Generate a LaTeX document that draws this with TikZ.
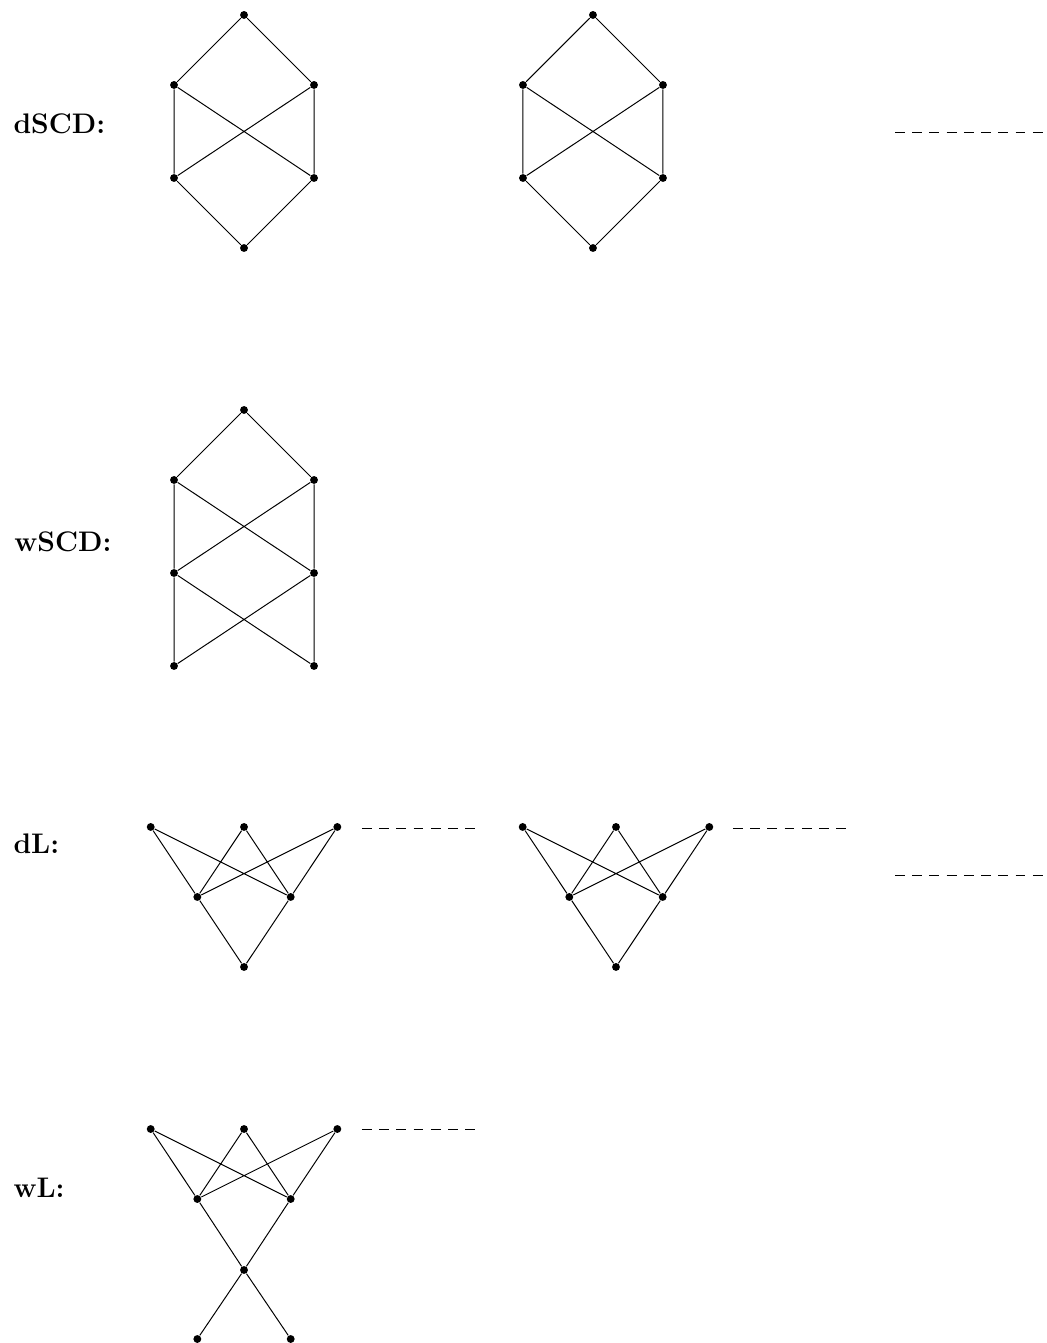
\documentclass[tikz,border=0pt]{standalone}
\usepackage{tikz}
\tikzset{
  vtx/.style={circle,fill=black,inner sep=0pt,minimum size=3.2pt},
  lbl/.style={anchor=west,inner sep=0pt,font=\fontsize{11.5}{13}\selectfont\bfseries},
  more/.style={dash pattern=on 4pt off 3pt}
}

\begin{document}
\begin{tikzpicture}
  \useasboundingbox (0,0) rectangle (14.957,-19.186);

  % dSCD
  \node[lbl] (ldscd) at (0.186,-1.771) {dSCD:};
  \begin{scope}[shift={(3.486,-0.214)}]
    \node[vtx] (p1) at (0,0) {};
    \node[vtx] (p2) at (-1,-1) {};
    \node[vtx] (p3) at (1,-1) {};
    \node[vtx] (p4) at (-1,-2.329) {};
    \node[vtx] (p5) at (1,-2.329) {};
    \node[vtx] (p6) at (0,-3.329) {};
  \end{scope}
  \draw (p1)--(p2) (p1)--(p3);
  \draw (p2)--(p4) (p3)--(p5) (p2)--(p5) (p3)--(p4);
  \draw (p4)--(p6) (p5)--(p6);

  \begin{scope}[shift={(8.471,-0.214)}]
    \node[vtx] (q1) at (0,0) {};
    \node[vtx] (q2) at (-1,-1) {};
    \node[vtx] (q3) at (1,-1) {};
    \node[vtx] (q4) at (-1,-2.329) {};
    \node[vtx] (q5) at (1,-2.329) {};
    \node[vtx] (q6) at (0,-3.329) {};
  \end{scope}
  \draw (q1)--(q2) (q1)--(q3);
  \draw (q2)--(q4) (q3)--(q5) (q2)--(q5) (q3)--(q4);
  \draw (q4)--(q6) (q5)--(q6);

  \coordinate (m1a) at (12.786,-1.886);
  \coordinate (m1b) at (14.894,-1.886);
  \draw[more] (m1a)--(m1b);

  % wSCD
  \node[lbl] (lwscd) at (0.2,-7.743) {wSCD:};
  \begin{scope}[shift={(3.486,-5.857)}]
    \node[vtx] (r1) at (0,0) {};
    \node[vtx] (r2) at (-1,-1) {};
    \node[vtx] (r3) at (1,-1) {};
    \node[vtx] (r4) at (-1,-2.329) {};
    \node[vtx] (r5) at (1,-2.329) {};
    \node[vtx] (r6) at (-1,-3.657) {};
    \node[vtx] (r7) at (1,-3.657) {};
  \end{scope}
  \draw (r1)--(r2) (r1)--(r3);
  \draw (r2)--(r4) (r3)--(r5) (r2)--(r5) (r3)--(r4);
  \draw (r4)--(r6) (r5)--(r7) (r4)--(r7) (r5)--(r6);

  % dL
  \node[lbl] (ldl) at (0.186,-12.06) {dL:};
  \begin{scope}[shift={(3.486,-11.814)}]
    \node[vtx] (s1) at (-1.333,0) {};
    \node[vtx] (s2) at (0,0) {};
    \node[vtx] (s3) at (1.333,0) {};
    \node[vtx] (s4) at (-0.667,-1) {};
    \node[vtx] (s5) at (0.667,-1) {};
    \node[vtx] (s6) at (0,-2) {};
  \end{scope}
  \draw (s1)--(s4) (s1)--(s5) (s2)--(s4) (s2)--(s5) (s3)--(s4) (s3)--(s5);
  \draw (s4)--(s6) (s5)--(s6);
  \coordinate (m2a) at (5.171,-11.84);
  \coordinate (m2b) at (6.788,-11.84);
  \draw[more] (m2a)--(m2b);

  \begin{scope}[shift={(8.8,-11.814)}]
    \node[vtx] (t1) at (-1.333,0) {};
    \node[vtx] (t2) at (0,0) {};
    \node[vtx] (t3) at (1.333,0) {};
    \node[vtx] (t4) at (-0.667,-1) {};
    \node[vtx] (t5) at (0.667,-1) {};
    \node[vtx] (t6) at (0,-2) {};
  \end{scope}
  \draw (t1)--(t4) (t1)--(t5) (t2)--(t4) (t2)--(t5) (t3)--(t4) (t3)--(t5);
  \draw (t4)--(t6) (t5)--(t6);
  \coordinate (m3a) at (10.471,-11.84);
  \coordinate (m3b) at (12.088,-11.84);
  \draw[more] (m3a)--(m3b);

  \coordinate (m4a) at (12.786,-12.5);
  \coordinate (m4b) at (14.894,-12.5);
  \draw[more] (m4a)--(m4b);

  % wL
  \node[lbl] (lwl) at (0.186,-16.97) {wL:};
  \begin{scope}[shift={(3.486,-16.129)}]
    \node[vtx] (u1) at (-1.333,0) {};
    \node[vtx] (u2) at (0,0) {};
    \node[vtx] (u3) at (1.333,0) {};
    \node[vtx] (u4) at (-0.667,-1) {};
    \node[vtx] (u5) at (0.667,-1) {};
    \node[vtx] (u6) at (0,-2.014) {};
    \node[vtx] (u7) at (-0.667,-3.0) {};
    \node[vtx] (u8) at (0.667,-3.0) {};
  \end{scope}
  \draw (u1)--(u4) (u1)--(u5) (u2)--(u4) (u2)--(u5) (u3)--(u4) (u3)--(u5);
  \draw (u4)--(u6) (u5)--(u6) (u6)--(u7) (u6)--(u8);
  \coordinate (m5a) at (5.171,-16.14);
  \coordinate (m5b) at (6.788,-16.14);
  \draw[more] (m5a)--(m5b);
\end{tikzpicture}
\end{document}
